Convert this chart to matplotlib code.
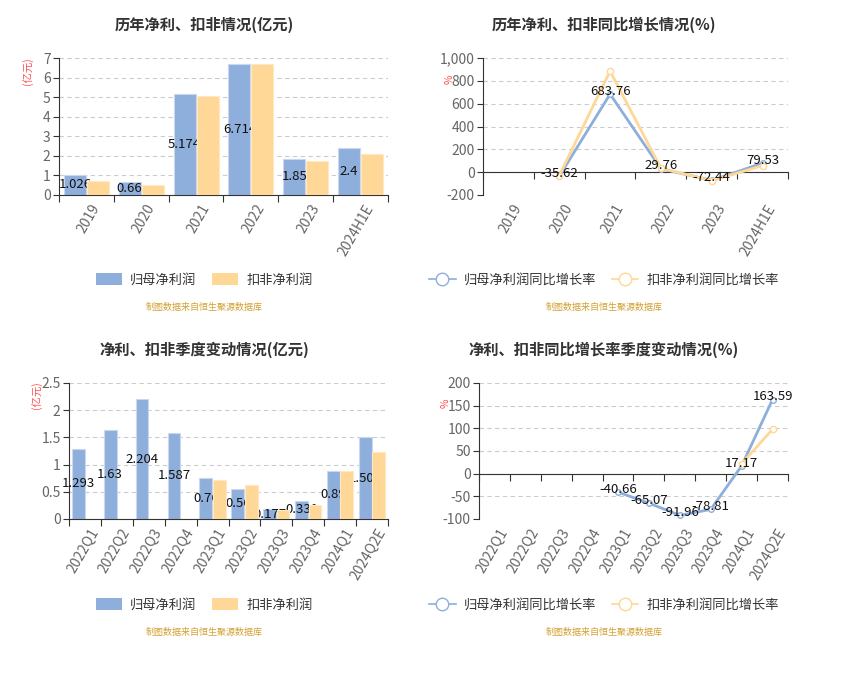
import numpy as np
import matplotlib
matplotlib.use('Agg')
import matplotlib.pyplot as plt
from matplotlib.lines import Line2D
from matplotlib.patches import Patch
from matplotlib.ticker import FuncFormatter

plt.rcParams['font.family'] = ['Noto Sans CJK SC', 'DejaVu Sans']
plt.rcParams['axes.unicode_minus'] = False

# ---------------- data ----------------
years = ['2019', '2020', '2021', '2022', '2023', '2024H1E']
np_year = [1.026, 0.66, 5.174, 6.714, 1.85, 2.4]
kf_year = [0.72, 0.52, 5.05, 6.70, 1.76, 2.10]
np_year_lbl = ['1.026', '0.66', '5.174', '6.714', '1.85', '2.4']

np_yoy = [np.nan, -35.62, 683.76, 29.76, -72.44, 79.53]
kf_yoy = [np.nan, -30.0, 885.0, 35.0, -75.0, 58.0]

quarters = ['2022Q1', '2022Q2', '2022Q3', '2022Q4', '2023Q1', '2023Q2',
            '2023Q3', '2023Q4', '2024Q1', '2024Q2E']
np_q = [1.293, 1.63, 2.204, 1.587, 0.76, 0.56, 0.177, 0.331, 0.89, 1.504]
kf_q = [np.nan, np.nan, np.nan, np.nan, 0.72, 0.62, 0.17, 0.26, 0.88, 1.23]
np_q_lbl = ['1.293', '1.63', '2.204', '1.587', '0.76', '0.56', '0.177', '0.331', '0.89', '1.504']

np_q_yoy = [np.nan, np.nan, np.nan, np.nan, -40.66, -65.07, -91.96, -78.81, 17.17, 163.59]
kf_q_yoy = [np.nan, np.nan, np.nan, np.nan, np.nan, np.nan, np.nan, np.nan, 22.0, 98.0]

BLUE = '#8eaedb'
ORANGE = '#ffd796'
GRID = '#cccccc'
AXC = '#333333'
TXT = '#666666'
SRC = '#d4a030'

W, H = 862, 681
fig = plt.figure(figsize=(W / 100, H / 100), dpi=100)


def box(l, r, t, b):
    return [l / W, 1 - b / H, (r - l) / W, (b - t) / H]


def style(ax, cats, ylim, yticks, fmt=None):
    n = len(cats)
    ax.set_xlim(-0.5, n - 0.5)
    ax.set_ylim(*ylim)
    ax.set_yticks(yticks)
    if fmt:
        ax.yaxis.set_major_formatter(FuncFormatter(fmt))
    for s in ['top', 'right']:
        ax.spines[s].set_visible(False)
    ax.spines['left'].set_color(AXC)
    ax.spines['bottom'].set_color(AXC)
    ax.spines['bottom'].set_position(('data', 0))
    ax.grid(axis='y', color=GRID, linestyle=(0, (4, 3)), linewidth=0.8)
    ax.set_axisbelow(True)
    ax.tick_params(axis='y', colors=AXC, labelcolor=TXT, labelsize=10, length=4, pad=2)
    # category boundaries as ticks, labels at centres
    ax.set_xticks(np.arange(-0.5, n, 1.0))
    ax.set_xticklabels([])
    ax.tick_params(axis='x', which='major', colors=AXC, length=5)
    for i, c in enumerate(cats):
        ax.annotate(c, xy=(i, ylim[0]), xycoords='data', xytext=(3, -5),
                    textcoords='offset points', rotation=60, ha='right', va='top',
                    rotation_mode='anchor', fontsize=10, color=TXT)


def bars(ax, cats, a, b, lbls):
    x = np.arange(len(cats))
    ax.bar(x - 0.21, a, 0.4, color=BLUE, edgecolor='#c9d8f0', linewidth=0.8, zorder=2)
    for xi, v, t in zip(x, a, lbls):
        ax.text(xi - 0.21, v / 2, t, ha='center', va='center', fontsize=9.5,
                color='#111111', zorder=3)
    ax.bar(x + 0.21, b, 0.4, color=ORANGE, edgecolor='#ffe8c4', linewidth=0.8, zorder=4)


def lines(ax, cats, a, b):
    x = np.arange(len(cats))
    ax.plot(x, a, color=BLUE, lw=2, marker='o', ms=4, mfc='white', mec=BLUE,
            mew=1, zorder=3)
    ax.plot(x, b, color=ORANGE, lw=2, marker='o', ms=4.5, mfc='white', mec=ORANGE,
            mew=1, zorder=4)
    for xi, v in zip(x, a):
        if not np.isnan(v):
            ax.annotate(f'{v:.2f}', xy=(xi, v), xytext=(0, 2), textcoords='offset points',
                        ha='center', va='center', fontsize=9.5, color='#111111', zorder=5)


def legend(cx, cy, kind, names):
    if kind == 'bar':
        hs = [Patch(facecolor=BLUE, edgecolor='none'), Patch(facecolor=ORANGE, edgecolor='none')]
    else:
        hs = [Line2D([], [], color=BLUE, lw=1.2, marker='o', ms=9, mfc='white', mec=BLUE),
              Line2D([], [], color=ORANGE, lw=1.2, marker='o', ms=9, mfc='white', mec=ORANGE)]
    lg = fig.legend(hs, names, loc='center', bbox_to_anchor=(cx / W, 1 - cy / H),
                    ncol=2, frameon=False, fontsize=9.5, handlelength=2.0,
                    handleheight=1.0, columnspacing=1.2, handletextpad=0.6)
    for t in lg.get_texts():
        t.set_color('#333333')


def source(cx, cy):
    fig.text(cx / W, 1 - cy / H, '制图数据来自恒生聚源数据库', ha='center', va='center',
             fontsize=6.5, color=SRC)


def title(cx, cy, s):
    fig.text(cx / W, 1 - cy / H, s, ha='center', va='center', fontsize=11,
             fontweight='bold', color='#333333')


def unit(x, y, s):
    fig.text(x / W, 1 - y / H, s, ha='center', va='center', fontsize=7.5,
             color='#ff4d4d', rotation=90)


thou = lambda v, p: f'{int(v):,}'
plain = lambda v, p: f'{v:g}'

# top-left
ax1 = fig.add_axes(box(59, 388, 58, 195))
style(ax1, years, (0, 7), range(0, 8), plain)
bars(ax1, years, np_year, kf_year, np_year_lbl)
title(204, 25, '历年净利、扣非情况(亿元)')
unit(28, 71, '(亿元)')
legend(204, 280, 'bar', ['归母净利润', '扣非净利润'])
source(204, 307)

# top-right
ax2 = fig.add_axes(box(483, 788, 58, 195))
style(ax2, years, (-200, 1000), range(-200, 1001, 200), thou)
lines(ax2, years, np_yoy, kf_yoy)
title(604, 25, '历年净利、扣非同比增长情况(%)')
unit(450, 79, '%')
legend(604, 280, 'line', ['归母净利润同比增长率', '扣非净利润同比增长率'])
source(604, 307)

# bottom-left
ax3 = fig.add_axes(box(69, 388, 383, 519))
style(ax3, quarters, (0, 2.5), [0, 0.5, 1, 1.5, 2, 2.5], plain)
bars(ax3, quarters, np_q, kf_q, np_q_lbl)
title(204, 350, '净利、扣非季度变动情况(亿元)')
unit(37, 395, '(亿元)')
legend(204, 605, 'bar', ['归母净利润', '扣非净利润'])
source(204, 632)

# bottom-right
ax4 = fig.add_axes(box(479, 788, 383, 519))
style(ax4, quarters, (-100, 200), range(-100, 201, 50), plain)
lines(ax4, quarters, np_q_yoy, kf_q_yoy)
title(604, 350, '净利、扣非同比增长率季度变动情况(%)')
unit(446, 403, '%')
legend(604, 605, 'line', ['归母净利润同比增长率', '扣非净利润同比增长率'])
source(604, 632)

fig.savefig('out.png', dpi=100)
